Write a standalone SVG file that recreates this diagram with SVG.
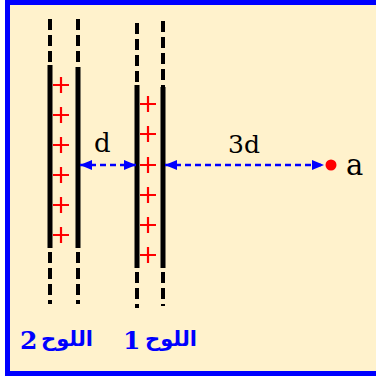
<svg xmlns="http://www.w3.org/2000/svg" width="376" height="376" viewBox="0 0 376 376">
<defs>
<style>
.dash{stroke:#000;stroke-width:4;stroke-dasharray:11 5;fill:none}
.solid{stroke:#000;stroke-width:5;fill:none}
.plus{stroke:#FF0000;stroke-width:2.2;fill:none}
.conn{stroke:#0000FF;stroke-width:2.5;stroke-dasharray:6 4;fill:none}
.border{stroke:#0000FF;stroke-width:5;fill:none}
.lbl{font-family:"DejaVu Serif",serif;fill:#000}
.num{font-family:"DejaVu Serif",serif;font-weight:bold;fill:#0000FF}
.ar{font-family:"DejaVu Sans",sans-serif;font-weight:bold;fill:#0000FF}
</style>
<marker id="ah" viewBox="0 0 12 10" refX="12" refY="5" markerWidth="12" markerHeight="10" markerUnits="userSpaceOnUse" orient="auto-start-reverse">
<path d="M0,0 L12,5 L0,10 Z" fill="#0000FF"/>
</marker>
</defs>
<rect x="0" y="0" width="376" height="376" fill="#FFFFFF"/>
<rect x="7" y="2" width="369" height="372" fill="#FFF2CC"/>
<path class="border" d="M376,2.5H7.5V373.5H376"/>
<g id="plate2">
<line class="dash" x1="50" y1="19" x2="50" y2="65"/>
<line class="solid" x1="50" y1="65" x2="50" y2="248"/>
<line class="dash" x1="50" y1="252" x2="50" y2="304"/>
<line class="dash" x1="78" y1="19" x2="78" y2="67"/>
<line class="solid" x1="78" y1="67" x2="78" y2="248"/>
<line class="dash" x1="78" y1="252" x2="78" y2="304"/>
<path class="plus" d="M53,85H69M61,77V93M53,115H69M61,107V123M53,145H69M61,137V153M53,175H69M61,167V183M53,205H69M61,197V213M53,235H69M61,227V243"/>
</g>
<g id="plate1">
<line class="dash" x1="137" y1="23" x2="137" y2="85"/>
<line class="solid" x1="137" y1="85" x2="137" y2="268"/>
<line class="dash" x1="137" y1="272" x2="137" y2="308"/>
<line class="dash" x1="163" y1="21" x2="163" y2="87"/>
<line class="solid" x1="163" y1="87" x2="163" y2="268"/>
<line class="dash" x1="163" y1="272" x2="163" y2="306"/>
<path class="plus" d="M140,104H156M148,96V112M140,134H156M148,126V142M140,165H156M148,157V173M140,195H156M148,187V203M140,225H156M148,217V233M140,255H156M148,247V263"/>
</g>
<g id="connectors">
<line class="conn" x1="80" y1="165" x2="136" y2="165" marker-start="url(#ah)" marker-end="url(#ah)"/>
<line class="conn" x1="165" y1="165" x2="324" y2="165" marker-start="url(#ah)" marker-end="url(#ah)"/>
</g>
<g id="point-a">
<circle cx="331" cy="165" r="5.5" fill="#FF0000"/>
<text class="lbl" x="346" y="175" font-size="29">a</text>
</g>
<text class="lbl" x="94" y="152" font-size="26">d</text>
<text class="lbl" x="228" y="153" font-size="25">3d</text>
<g id="label2">
<text class="num" x="20" y="349" font-size="25">2</text>
<text class="ar" x="93" y="346" font-size="21" text-anchor="end">اللوح</text>
</g>
<g id="label1">
<text class="num" x="123" y="349" font-size="25">1</text>
<text class="ar" x="197" y="346" font-size="21" text-anchor="end">اللوح</text>
</g>
</svg>
